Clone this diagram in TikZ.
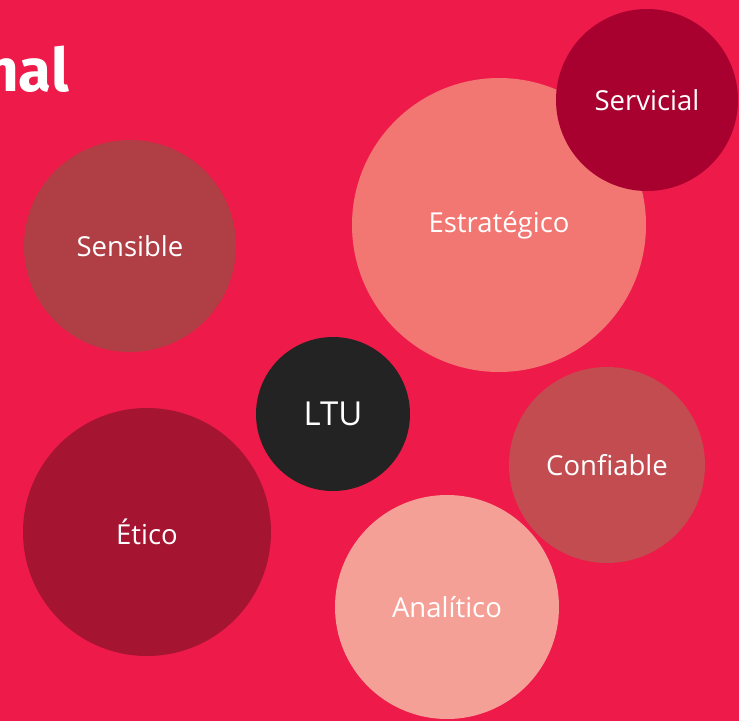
\documentclass[tikz,border=0pt]{standalone}
\usepackage{fontspec}
\setmainfont{Open Sans}
\newfontfamily\titlefont{Fira Sans}
\usetikzlibrary{positioning}
\definecolor{bgred}{HTML}{EE1A4A}
\definecolor{sensred}{HTML}{B03E45}
\definecolor{estrpink}{HTML}{F27672}
\definecolor{servred}{HTML}{A8002F}
\definecolor{ltublack}{HTML}{232323}
\definecolor{confred}{HTML}{C24C4F}
\definecolor{eticred}{HTML}{A51430}
\definecolor{analpink}{HTML}{F5A097}
\begin{document}
\begin{tikzpicture}[x=1pt, y=-1pt]

\tikzset{bubble/.style = {circle, inner sep=0pt, text=white, font=\fontsize{27.5}{32}\selectfont}}

\fill[bgred] (0,0) rectangle (739,721);
\useasboundingbox (0,0) rectangle (739,721);
\clip (0,0) rectangle (739,721);

\node[anchor=base east, text=white, font=\titlefont\fontsize{60}{66}\selectfont\bfseries, inner sep=0pt] (title) at (69,91) {nal};

\node[bubble, fill=sensred, minimum size=212pt] (sensible) at (130,246) {Sensible};
\node[bubble, fill=estrpink, minimum size=294pt] (estrategico) at (499,225) {Estratégico};
\node[bubble, fill=servred, minimum size=182pt] (servicial) at (647,100) {Servicial};
\node[bubble, fill=ltublack, minimum size=154pt, font=\fontsize{33}{38}\selectfont] (ltu) at (333,414) {LTU};
\node[bubble, fill=confred, minimum size=196pt] (confiable) at (607,465) {Confiable};
\node[bubble, fill=eticred, minimum size=248pt] (etico) at (147,532) {Ético};
\node[bubble, fill=analpink, minimum size=224pt] (analitico) at (447,607) {Analítico};

\end{tikzpicture}
\end{document}
